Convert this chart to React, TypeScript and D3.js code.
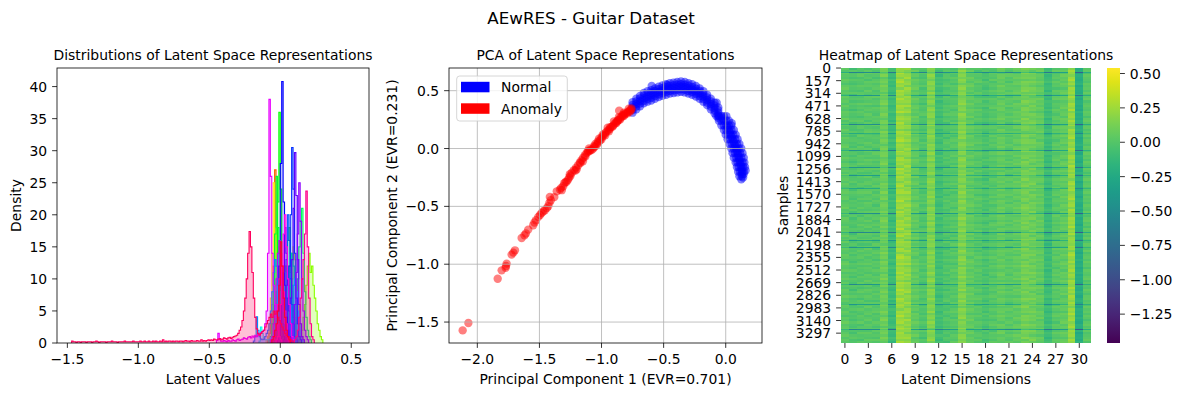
import React, { useEffect } from 'react';
import * as d3 from 'd3';

const W = 1182;
const H = 396;
const FONT = "'DejaVu Sans', sans-serif";
const FS = 13.9;

// ---------------- Histogram data (density per 0.01-wide bin) ----------------
const histBinWidth = 0.01;
const dimStarts: number[] = [
  -0.04, -0.09, -0.06, 0.0, -0.10, 0.04, -0.08, 0.14, -0.05, 0.0,
  -0.06, -0.08, 0.08, 0.03, -0.02, -0.15, 0.05, -0.06, -0.19, 0.0,
  0.02, -0.05, -0.02, 0.04, 0.07, -0.07, -0.45, -0.03, -0.05, 0.10,
  -1.47, -0.06,
];
const dimDensities: number[][] = [
  [0.5, 1, 2, 4, 6, 8, 10, 12, 11, 9, 10, 7, 5, 4, 2, 1, 0.5],
  [0.5, 1.5, 3, 6, 12, 27, 18, 9, 5, 3, 2, 1, 0.5],
  [0.5, 1, 3, 5, 8, 10, 9, 7, 6, 4, 3, 2, 1, 0.5],
  [0.5, 1, 2, 4, 7, 10, 12, 11, 8, 6, 4, 2, 1, 0.5],
  [0.5, 1, 3, 7, 14, 25, 17, 8, 4, 2, 1, 0.5],
  [0.5, 1, 3, 6, 10, 15, 13, 9, 6, 3, 2, 1, 0.5],
  [0.5, 1, 3, 7, 12, 18, 15, 10, 6, 4, 2, 1, 0.5],
  [1, 2, 4, 6, 9, 12, 14, 11, 12, 9, 7, 5, 3, 2, 1, 0.5],
  [0.5, 1, 3, 6, 9, 12, 10, 8, 6, 4, 2, 1, 0.5],
  [0.5, 2, 4, 8, 12, 16, 18, 14, 9, 5, 3, 1, 0.5],
  [0.5, 1, 3, 8, 22, 36, 24, 10, 4, 2, 1, 0.5],
  [0.5, 1, 3, 8, 17, 26, 18, 9, 4, 2, 1, 0.5],
  [0.5, 1, 3, 6, 10, 15, 19, 21, 14, 8, 4, 2, 1, 0.5],
  [0.5, 1, 3, 6, 10, 14, 12, 9, 6, 3, 2, 1, 0.5],
  [0.5, 1, 3, 5, 8, 10, 9, 7, 5, 3, 1, 0.5],
  [0.3, 2.5, 1.5, 0.8, 0.5, 0.5, 0.5, 0.6, 0.8, 1, 1.5, 2, 3, 4, 6, 8, 10, 12, 11, 9, 7, 5, 3, 2, 1, 0.5],
  [0.5, 1, 3, 6, 9, 10, 8, 5, 3, 1, 0.5],
  [0.5, 1, 3, 6, 10, 14, 12, 8, 5, 3, 1, 0.5],
  [0.3, 1, 4.1, 2, 1, 0.6, 0.5, 0.6, 1, 1.5, 2, 3, 5, 8, 11, 13, 12, 9, 6, 3, 2, 1, 0.5],
  [0.5, 1, 3, 7, 13, 20, 16, 10, 6, 3, 1, 0.5],
  [0.5, 1, 3, 7, 12, 20, 30.5, 24, 14, 7, 3, 1, 0.5],
  [0.5, 1, 2, 5, 12, 28, 40.8, 22, 9, 4, 2, 1, 0.5],
  [0.5, 1, 3, 6, 11, 18, 14, 9, 5, 3, 1, 0.5],
  [0.5, 1, 3, 7, 13, 21, 29.7, 23, 13, 6, 3, 1, 0.5],
  [0.5, 1, 3, 6, 11, 17, 25, 19, 10, 5, 2, 1, 0.5],
  [0.5, 1, 3, 6, 10, 14, 16, 12, 8, 5, 3, 1, 0.5],
  [0.4, 1.5, 0.5, 0.3, 0.3, 0.4, 0.3, 0.2, 0.4, 0.3, 0.3, 0.5, 0.4, 0.3, 0.5, 0.6, 0.4, 0.5, 0.6, 0.8,
    0.7, 0.6, 0.9, 1.0, 0.8, 1.1, 0.9, 1.2, 1.0, 1.4, 1.3, 1.6,
    1.8, 2, 3, 5, 14, 38, 26, 14, 9, 6, 4, 2, 1, 0.5],
  [0.5, 1, 3, 6, 12, 17, 20, 15, 10, 6, 3, 1, 0.5],
  [0.5, 1, 3, 6, 10, 14, 12, 8, 5, 3, 1, 0.5],
  [0.5, 1, 2, 4, 7, 10, 13, 17, 23.7, 15, 7, 3, 1, 0.5],
  [0.3, 0.2, 0.2, 0.1, 0.2, 0.2, 0.1, 0.2, 0.2, 0.2, 0.1, 0.2, 0.2, 0.2, 0.1, 0.2, 0.2, 0.3, 0.2, 0.1,
    0.2, 0.2, 0.2, 0.2, 0.1, 0.2, 0.2, 0.2, 0.3, 0.2, 0.2, 0.2, 0.1, 0.2, 0.2, 0.2, 0.2, 0.3, 0.2, 0.2,
    0.2, 0.2, 0.2, 0.3, 0.2, 0.2, 0.2,
    0.2, 0.3, 0.2, 0.2, 0.3, 0.2, 0.2, 0.3, 0.2, 0.2, 0.3, 0.2, 0.3, 0.2, 0.2, 0.3, 0.2, 0.5, 0.2, 0.3,
    0.2, 0.3, 0.3, 0.2, 0.3, 0.2, 0.3, 0.3, 0.2, 0.3, 0.3, 0.2, 0.3, 0.4, 0.3, 0.3, 0.2, 0.4, 0.3, 0.3,
    0.3, 0.4, 0.3, 0.3, 0.5, 0.3, 0.4, 0.3, 0.4, 0.5,
    0.4, 0.5, 0.4, 0.6, 0.5, 0.5, 0.6, 0.7, 0.5, 0.6, 0.8, 0.7, 0.6, 0.8, 0.9, 0.7, 0.9, 1.0, 1.1,
    1.2, 1.5, 2, 2.5, 3.5, 5, 7, 10, 14, 17.4, 15, 11, 7, 4, 2.2, 1.5, 1.2, 1.5, 1.8, 2,
    2.5, 3, 3.5, 4, 4.5, 4, 5, 4.5, 5, 4, 3.5, 3, 2.5, 2, 1.5, 1.2, 1, 0.8, 0.5, 0.3],
  [0.5, 1, 2, 3, 5, 9, 15.8, 12, 7, 4, 2, 1, 0.5],
];
const histXTicks = [-1.5, -1.0, -0.5, 0.0, 0.5];
const histYTicks = [0, 5, 10, 15, 20, 25, 30, 35, 40];

// ---------------- PCA data ----------------
const normalPoints: [number, number][] = [
  [-0.75, 0.355], [-0.75, 0.40], [-0.75, 0.31], [-0.75, 0.377], [-0.75, 0.333],
  [-0.72, 0.385], [-0.72, 0.43], [-0.72, 0.34], [-0.72, 0.407], [-0.72, 0.363],
  [-0.69, 0.41], [-0.69, 0.455], [-0.69, 0.365], [-0.69, 0.432], [-0.69, 0.388],
  [-0.66, 0.435], [-0.66, 0.48], [-0.66, 0.39], [-0.66, 0.457], [-0.66, 0.413],
  [-0.63, 0.45], [-0.63, 0.495], [-0.63, 0.405], [-0.63, 0.472], [-0.63, 0.428],
  [-0.60, 0.46], [-0.60, 0.505], [-0.60, 0.415], [-0.60, 0.482], [-0.60, 0.438],
  [-0.57, 0.475], [-0.57, 0.52], [-0.57, 0.43], [-0.57, 0.497], [-0.57, 0.453],
  [-0.54, 0.49], [-0.54, 0.535], [-0.54, 0.445], [-0.54, 0.512], [-0.54, 0.468],
  [-0.51, 0.50], [-0.51, 0.545], [-0.51, 0.455], [-0.51, 0.522], [-0.51, 0.478],
  [-0.48, 0.51], [-0.48, 0.555], [-0.48, 0.465], [-0.48, 0.532], [-0.48, 0.488],
  [-0.45, 0.52], [-0.45, 0.565], [-0.45, 0.475], [-0.45, 0.542], [-0.45, 0.498],
  [-0.42, 0.525], [-0.42, 0.57], [-0.42, 0.48], [-0.42, 0.547], [-0.42, 0.503],
  [-0.39, 0.53], [-0.39, 0.575], [-0.39, 0.485], [-0.39, 0.552], [-0.39, 0.508],
  [-0.36, 0.535], [-0.36, 0.58], [-0.36, 0.49], [-0.36, 0.557], [-0.36, 0.513],
  [-0.33, 0.53], [-0.33, 0.575], [-0.33, 0.485], [-0.33, 0.552], [-0.33, 0.508],
  [-0.30, 0.52], [-0.30, 0.565], [-0.30, 0.475], [-0.30, 0.542], [-0.30, 0.498],
  [-0.27, 0.51], [-0.27, 0.555], [-0.27, 0.465], [-0.27, 0.532], [-0.27, 0.488],
  [-0.24, 0.495], [-0.24, 0.54], [-0.24, 0.45], [-0.24, 0.517], [-0.24, 0.473],
  [-0.21, 0.475], [-0.21, 0.52], [-0.21, 0.43], [-0.21, 0.497], [-0.21, 0.453],
  [-0.18, 0.45], [-0.18, 0.495], [-0.18, 0.405], [-0.18, 0.472], [-0.18, 0.428],
  [-0.15, 0.42], [-0.15, 0.465], [-0.15, 0.375], [-0.15, 0.442], [-0.15, 0.398],
  [-0.12, 0.385], [-0.12, 0.43], [-0.12, 0.34], [-0.12, 0.407], [-0.12, 0.363],
  [-0.09, 0.35], [-0.09, 0.395], [-0.09, 0.305], [-0.09, 0.372], [-0.09, 0.328],
  [-0.06, 0.31], [-0.06, 0.355], [-0.06, 0.265], [-0.06, 0.332], [-0.06, 0.288],
  [-0.035, 0.28], [0.005, 0.28], [-0.075, 0.28], [-0.015, 0.28], [-0.055, 0.28],
  [-0.015, 0.24], [0.025, 0.24], [-0.055, 0.24], [0.005, 0.24], [-0.035, 0.24],
  [0.005, 0.20], [0.045, 0.20], [-0.035, 0.20], [0.025, 0.20], [-0.015, 0.20],
  [0.025, 0.16], [0.065, 0.16], [-0.015, 0.16], [0.045, 0.16], [0.005, 0.16],
  [0.04, 0.12], [0.08, 0.12], [0.0, 0.12], [0.06, 0.12], [0.02, 0.12],
  [0.055, 0.08], [0.095, 0.08], [0.015, 0.08], [0.075, 0.08], [0.035, 0.08],
  [0.07, 0.04], [0.11, 0.04], [0.03, 0.04], [0.09, 0.04], [0.05, 0.04],
  [0.085, 0.0], [0.125, 0.0], [0.045, 0.0], [0.105, 0.0], [0.065, 0.0],
  [0.095, -0.04], [0.135, -0.04], [0.055, -0.04], [0.115, -0.04], [0.075, -0.04],
  [0.105, -0.08], [0.145, -0.08], [0.065, -0.08], [0.125, -0.08], [0.085, -0.08],
  [0.115, -0.12], [0.15, -0.12], [0.08, -0.12], [0.135, -0.12], [0.095, -0.12],
  [0.125, -0.16], [0.155, -0.16], [0.09, -0.16], [0.14, -0.16], [0.105, -0.16],
  [0.13, -0.20], [0.16, -0.19], [0.10, -0.20], [0.145, -0.20], [0.115, -0.20],
  [0.13, -0.24], [0.145, -0.22], [0.11, -0.24],
  [-0.025, 0.26], [0.015, 0.18], [0.033, 0.14], [0.048, 0.10], [0.063, 0.06], [0.078, 0.02],
  [0.09, -0.02], [0.10, -0.06], [0.11, -0.10], [0.12, -0.14], [0.128, -0.18], [0.13, -0.22],
  [-0.596, 0.54], [-0.475, 0.55], [-0.073, 0.396], [0.048, 0.218], [0.125, -0.265], [0.14, -0.25],
];
const anomalyPoints: [number, number][] = [
  [-2.118, -1.572], [-2.072, -1.508],
  [-1.836, -1.125], [-1.804, -1.053], [-1.769, -1.015], [-1.764, -0.995], [-1.772, -1.03],
  [-1.724, -0.917], [-1.697, -0.88], [-1.71, -0.9],
  [-1.643, -0.773], [-1.609, -0.735], [-1.59, -0.701], [-1.62, -0.75],
  [-1.55, -0.663], [-1.528, -0.62], [-1.509, -0.591], [-1.54, -0.64], [-1.495, -0.575], [-1.483, -0.557],
  [-1.47, -0.545], [-1.456, -0.534], [-1.44, -0.515], [-1.429, -0.499], [-1.408, -0.447], [-1.416, -0.418],
  [-1.42, -0.47], [-1.38, -0.42], [-1.36, -0.37],
  [-1.335, -0.355], [-1.325, -0.34], [-1.308, -0.326], [-1.32, -0.36], [-1.3, -0.3], [-1.281, -0.288],
  [-1.27, -0.27], [-1.255, -0.222], [-1.26, -0.25], [-1.24, -0.21], [-1.223, -0.187], [-1.2, -0.18],
  [-1.205, -0.165], [-1.188, -0.144], [-1.175, -0.12], [-1.161, -0.101], [-1.15, -0.11], [-1.148, -0.08],
  [-1.134, -0.058], [-1.12, -0.04], [-1.107, -0.029], [-1.1, 0.0], [-1.095, -0.02], [-1.08, -0.014],
  [-1.067, 0.0], [-1.054, 0.014], [-1.05, 0.04], [-1.04, 0.03], [-1.027, 0.049], [-1.013, 0.07],
  [-1.0, 0.095], [-0.99, 0.12], [-0.985, 0.11], [-0.973, 0.13], [-0.96, 0.145], [-0.95, 0.18],
  [-0.946, 0.159], [-0.933, 0.17], [-0.92, 0.187], [-0.905, 0.2], [-0.9, 0.235], [-0.893, 0.216],
  [-0.88, 0.23], [-0.866, 0.245], [-0.86, 0.27], [-0.858, 0.326], [-0.852, 0.26], [-0.839, 0.274],
  [-0.825, 0.285], [-0.82, 0.31], [-0.812, 0.297], [-0.8, 0.31], [-0.786, 0.317], [-0.78, 0.345],
  [-0.772, 0.33], [-0.759, 0.346],
  [-1.29, -0.29], [-1.25, -0.235], [-1.21, -0.19], [-1.17, -0.125], [-1.13, -0.07], [-1.09, -0.01],
  [-1.06, 0.02], [-1.03, 0.06], [-1.0, 0.08], [-0.97, 0.115], [-0.94, 0.15], [-0.91, 0.19],
  [-0.88, 0.22], [-0.85, 0.25], [-0.82, 0.28], [-0.79, 0.305], [-0.77, 0.32], [-1.11, -0.02],
  [-1.02, 0.085], [-0.93, 0.185], [-0.87, 0.24], [-0.83, 0.29], [-0.76, 0.335],
];
const pcaXTicks = [-2.0, -1.5, -1.0, -0.5, 0.0];
const pcaYTicks = [0.5, 0.0, -0.5, -1.0, -1.5];
const legendLabels = ['Normal', 'Anomaly'];

// ---------------- Heatmap data ----------------
const sampleCount = 3420;
const dimCount = 32;
const colMeans: number[] = [
  0.02, -0.02, 0.0, 0.01, 0.0, 0.08, -0.1, 0.22, 0.18, 0.04,
  -0.02, 0.14, -0.08, -0.02, 0.0, 0.14, 0.04, 0.0, -0.04, 0.0,
  0.05, 0.01, 0.04, 0.1, 0.08, 0.04, -0.1, 0.01, 0.04, 0.2,
  -0.22, 0.01,
];
const colScale: number[] = [
  1, 1, 1, 1, 1, 1.2, 1, 1.5, 1.5, 1, 1, 1.3, 1, 1, 1, 1.3,
  1, 1, 1, 1, 1, 1, 1, 1.2, 1.2, 1, 1, 1, 1, 1.4, 1, 1,
];
const colShift: number[] = [
  0, 12, 33, 7, 51, 20, 44, 3, 60, 27, 15, 38, 9, 56, 24, 48,
  1, 30, 63, 18, 41, 6, 53, 26, 11, 35, 58, 22, 46, 4, 29, 66,
];
const rowOffsets: number[] = [
  0.02, -0.03, 0.04, 0.00, -0.02, 0.05, 0.01, -0.04, 0.03, 0.06,
  -0.01, 0.02, -0.05, 0.04, 0.01, 0.03, -0.02, 0.05, 0.00, -0.03,
  0.04, 0.02, -0.01, 0.06, -0.04, 0.01, 0.03, -0.02, 0.05, 0.00,
  0.02, -0.05, 0.04, 0.01, -0.01, 0.03, 0.06, -0.03, 0.02, 0.00,
  -0.02, 0.05, 0.01, -0.04, 0.03, 0.04, -0.01, 0.02, -0.03, 0.06,
  0.00, 0.03, -0.02, 0.04, 0.01, -0.05, 0.02, 0.05, -0.01, 0.03,
  0.04, -0.03, 0.00, 0.02, 0.06, -0.02, 0.01, 0.03, -0.04, 0.05,
  0.02, 0.00, -0.03, 0.04, 0.01, 0.03, -0.01, 0.06, -0.02, 0.02,
  0.05, -0.04, 0.01, 0.03, 0.00, -0.02, 0.04, 0.02, -0.05, 0.03,
  0.06, 0.01, -0.01, 0.04, -0.03, 0.02, 0.00, 0.05, -0.02, 0.03,
  0.01, -0.04, 0.04, 0.02, -0.01, 0.06, 0.00, 0.03, -0.03, 0.05,
  0.02, -0.02, 0.04, 0.01, -0.05, 0.03, 0.00, 0.06, -0.01, 0.02,
  0.04, -0.03, 0.01, 0.05, -0.02, 0.03, 0.00,
];
const stripeSamples: number[] = [50, 330, 700, 805, 1020, 1231, 1327, 1496, 1807, 2036, 2139, 2222, 2690, 2939, 3246];
const stripeStrength: number[] = [0.65, 0.5, 0.6, 0.3, 0.55, 0.5, 0.45, 0.3, 0.6, 0.65, 0.4, 0.45, 0.55, 0.4, 0.65];
const stripeColWeight: number[] = [
  0.3, 0.9, 0.8, 0.8, 0.8, 0.2, 0.9, 0.1, 0.1, 0.6, 0.8, 0.2, 0.8, 0.7, 0.6, 0.2,
  0.5, 0.5, 0.8, 0.5, 0.7, 0.8, 0.7, 0.2, 0.3, 0.5, 0.9, 0.7, 0.6, 0.1, 1.0, 0.4,
];
const stripeLength = 12;
const heatVmin = -1.46;
const heatVmax = 0.54;
const heatXTicks = [0, 3, 6, 9, 12, 15, 18, 21, 24, 27, 30];
const heatYTicks = [0, 157, 314, 471, 628, 785, 942, 1099, 1256, 1413, 1570, 1727, 1884, 2041, 2198, 2355, 2512, 2669, 2826, 2983, 3140, 3297];
const cbarTicks = [0.5, 0.25, 0.0, -0.25, -0.5, -0.75, -1.0, -1.25];

function fmt(v: number, d: number): string {
  const s = (Math.abs(v) < 1e-9 ? 0 : v).toFixed(d);
  return s.replace('-', '\u2212');
}

const TICK = 4.9;
const PAD = 4.9;

export default function App() {
  useEffect(() => {
    document.body.style.margin = '0';
  }, []);

  // ---------- histogram ----------
  const hL = 57, hR = 369, hT = 68, hB = 343;
  const hx = d3.scaleLinear().domain([-1.573, 0.625]).range([hL, hR]);
  const hy = d3.scaleLinear().domain([0, 42.9]).range([hB, hT]);
  const histPaths = dimDensities.map((vals, i) => {
    const start = dimStarts[i];
    const pts: [number, number][] = [[hx(start), hy(0)]];
    vals.forEach((v, k) => {
      pts.push([hx(start + k * histBinWidth), hy(v)]);
      pts.push([hx(start + (k + 1) * histBinWidth), hy(v)]);
    });
    pts.push([hx(start + vals.length * histBinWidth), hy(0)]);
    const line = d3.line();
    return { d: line(pts) as string, color: d3.hsl(((i + 1) / 33) * 360, 1, 0.5).formatHex() };
  });

  // ---------- PCA ----------
  const pL = 449, pR = 762, pT = 68, pB = 343;
  const px = d3.scaleLinear().domain([-2.228, 0.292]).range([pL, pR]);
  const py = d3.scaleLinear().domain([-1.681, 0.696]).range([pB, pT]);

  // ---------- heatmap ----------
  const mL = 841, mR = 1091, mT = 68, mB = 343;
  const mx = d3.scaleBand<number>().domain(d3.range(dimCount)).range([mL, mR]);
  const my = d3.scaleLinear().domain([0, sampleCount]).range([mT, mB]);
  const cnorm = d3.scaleLinear().domain([heatVmin, heatVmax]).range([0, 1]).clamp(true);
  const color = (v: number) => d3.interpolateViridis(cnorm(v));
  const nb = rowOffsets.length;
  const bandSize = sampleCount / nb;
  const baseVal = (b: number, c: number) =>
    colMeans[c] + rowOffsets[(b + colShift[c]) % nb] * colScale[c];
  const cells: { x: number; y: number; w: number; h: number; f: string }[] = [];
  for (let b = 0; b < nb; b++) {
    const y0 = my(b * bandSize);
    const y1 = my(Math.min((b + 1) * bandSize, sampleCount));
    for (let c = 0; c < dimCount; c++) {
      cells.push({ x: mx(c) as number, y: y0, w: mx.bandwidth() + 0.3, h: y1 - y0 + 0.3, f: color(baseVal(b, c)) });
    }
  }
  stripeSamples.forEach((s, k) => {
    const b = Math.floor(s / bandSize);
    const y0 = my(s);
    const y1 = my(s + stripeLength);
    for (let c = 0; c < dimCount; c++) {
      const v = baseVal(b, c) - stripeStrength[k] * stripeColWeight[c];
      cells.push({ x: mx(c) as number, y: y0, w: mx.bandwidth() + 0.3, h: Math.max(1, y1 - y0), f: color(v) });
    }
  });
  const cbL = 1107, cbR = 1120;
  const cy = d3.scaleLinear().domain([heatVmin, heatVmax]).range([mB, mT]);
  const gradStops = d3.range(0, 1.0001, 0.05);

  const textStyle = { fontFamily: FONT, fontSize: FS, fill: '#000' } as const;

  return (
    <svg width={W} height={H} style={{ position: 'absolute', left: 0, top: 0, background: '#fff' }}
      xmlns="http://www.w3.org/2000/svg">
      <defs>
        <clipPath id="histClip"><rect x={hL} y={hT} width={hR - hL} height={hB - hT} /></clipPath>
        <clipPath id="pcaClip"><rect x={pL} y={pT} width={pR - pL} height={pB - pT} /></clipPath>
        <linearGradient id="viridisGrad" x1="0" y1="1" x2="0" y2="0">
          {gradStops.map((t) => (
            <stop key={t} offset={t} stopColor={d3.interpolateViridis(t)} />
          ))}
        </linearGradient>
      </defs>
      <rect x={0} y={0} width={W} height={H} fill="#fff" />

      {/* Suptitle */}
      <text x={591} y={24} textAnchor="middle" style={{ ...textStyle, fontSize: 16.7 }}>AEwRES - Guitar Dataset</text>

      {/* ---------------- Histogram panel ---------------- */}
      <g clipPath="url(#histClip)">
        {histPaths.map((p, i) => (
          <g key={i}>
            <path d={p.d} fill={p.color} fillOpacity={0.25} stroke="none" />
            <path d={p.d} fill="none" stroke={p.color} strokeWidth={1.1} strokeLinejoin="miter" />
          </g>
        ))}
      </g>
      <rect x={hL} y={hT} width={hR - hL} height={hB - hT} fill="none" stroke="#000" strokeWidth={0.8} />
      {histXTicks.map((t) => (
        <g key={t}>
          <line x1={hx(t)} x2={hx(t)} y1={hB} y2={hB + TICK} stroke="#000" strokeWidth={0.8} />
          <text x={hx(t)} y={hB + TICK + PAD + 11} textAnchor="middle" style={textStyle}>{fmt(t, 1)}</text>
        </g>
      ))}
      {histYTicks.map((t) => (
        <g key={t}>
          <line x1={hL - TICK} x2={hL} y1={hy(t)} y2={hy(t)} stroke="#000" strokeWidth={0.8} />
          <text x={hL - TICK - PAD} y={hy(t) + 5} textAnchor="end" style={textStyle}>{String(t)}</text>
        </g>
      ))}
      <text x={(hL + hR) / 2} y={60} textAnchor="middle" style={textStyle}>Distributions of Latent Space Representations</text>
      <text x={(hL + hR) / 2} y={384} textAnchor="middle" style={textStyle}>Latent Values</text>
      <text transform={`translate(${21},${(hT + hB) / 2}) rotate(-90)`} textAnchor="middle" style={textStyle}>Density</text>

      {/* ---------------- PCA panel ---------------- */}
      <g clipPath="url(#pcaClip)">
        {normalPoints.map((p, i) => (
          <circle key={'n' + i} cx={px(p[0])} cy={py(p[1])} r={4.2} fill="#0000ff" fillOpacity={0.5} />
        ))}
        {anomalyPoints.map((p, i) => (
          <circle key={'a' + i} cx={px(p[0])} cy={py(p[1])} r={4.2} fill="#ff0000" fillOpacity={0.5} />
        ))}
        {pcaXTicks.map((t) => (
          <line key={'gx' + t} x1={px(t)} x2={px(t)} y1={pT} y2={pB} stroke="#b0b0b0" strokeWidth={0.8} />
        ))}
        {pcaYTicks.map((t) => (
          <line key={'gy' + t} x1={pL} x2={pR} y1={py(t)} y2={py(t)} stroke="#b0b0b0" strokeWidth={0.8} />
        ))}
      </g>
      <rect x={pL} y={pT} width={pR - pL} height={pB - pT} fill="none" stroke="#000" strokeWidth={0.8} />
      {pcaXTicks.map((t) => (
        <g key={t}>
          <line x1={px(t)} x2={px(t)} y1={pB} y2={pB + TICK} stroke="#000" strokeWidth={0.8} />
          <text x={px(t)} y={pB + TICK + PAD + 11} textAnchor="middle" style={textStyle}>{fmt(t, 1)}</text>
        </g>
      ))}
      {pcaYTicks.map((t) => (
        <g key={t}>
          <line x1={pL - TICK} x2={pL} y1={py(t)} y2={py(t)} stroke="#000" strokeWidth={0.8} />
          <text x={pL - TICK - PAD} y={py(t) + 5} textAnchor="end" style={textStyle}>{fmt(t, 1)}</text>
        </g>
      ))}
      <text x={(pL + pR) / 2} y={60} textAnchor="middle" style={textStyle}>PCA of Latent Space Representations</text>
      <text x={(pL + pR) / 2} y={384} textAnchor="middle" style={textStyle}>Principal Component 1 (EVR=0.701)</text>
      <text transform={`translate(${396.5},${(pT + pB) / 2}) rotate(-90)`} textAnchor="middle" style={textStyle}>Principal Component 2 (EVR=0.231)</text>
      {/* legend */}
      <rect x={456.7} y={76} width={110.6} height={45} rx={3} ry={3} fill="#fff" fillOpacity={0.8} stroke="#cccccc" strokeWidth={0.8} />
      {legendLabels.map((lab, i) => (
        <g key={lab}>
          <rect x={461} y={81.8 + i * 21.5} width={28.5} height={10.5} fill={i === 0 ? '#0000ff' : '#ff0000'} />
          <text x={501} y={92 + i * 21.5} style={textStyle}>{lab}</text>
        </g>
      ))}

      {/* ---------------- Heatmap panel ---------------- */}
      <g shapeRendering="crispEdges">
        {cells.map((c, i) => (
          <rect key={i} x={c.x} y={c.y} width={c.w} height={c.h} fill={c.f} />
        ))}
      </g>
      {heatXTicks.map((t) => {
        const xc = (mx(t) as number) + mx.bandwidth() / 2;
        return (
          <g key={t}>
            <line x1={xc} x2={xc} y1={mB} y2={mB + TICK} stroke="#000" strokeWidth={0.8} />
            <text x={xc} y={mB + TICK + PAD + 11} textAnchor="middle" style={textStyle}>{String(t)}</text>
          </g>
        );
      })}
      {heatYTicks.map((t) => {
        const yc = my(t + 0.5);
        return (
          <g key={t}>
            <line x1={mL - TICK} x2={mL} y1={yc} y2={yc} stroke="#000" strokeWidth={0.8} />
            <text x={mL - TICK - PAD} y={yc + 5} textAnchor="end" style={textStyle}>{String(t)}</text>
          </g>
        );
      })}
      <text x={(mL + mR) / 2} y={60} textAnchor="middle" style={textStyle}>Heatmap of Latent Space Representations</text>
      <text x={(mL + mR) / 2} y={384} textAnchor="middle" style={textStyle}>Latent Dimensions</text>
      <text transform={`translate(${787.5},${(mT + mB) / 2}) rotate(-90)`} textAnchor="middle" style={textStyle}>Samples</text>
      {/* colorbar */}
      <rect x={cbL} y={mT} width={cbR - cbL} height={mB - mT} fill="url(#viridisGrad)" />
      {cbarTicks.map((t) => (
        <g key={t}>
          <line x1={cbR} x2={cbR + TICK} y1={cy(t)} y2={cy(t)} stroke="#000" strokeWidth={0.8} />
          <text x={cbR + TICK + PAD} y={cy(t) + 5} textAnchor="start" style={textStyle}>{fmt(t, 2)}</text>
        </g>
      ))}
    </svg>
  );
}
